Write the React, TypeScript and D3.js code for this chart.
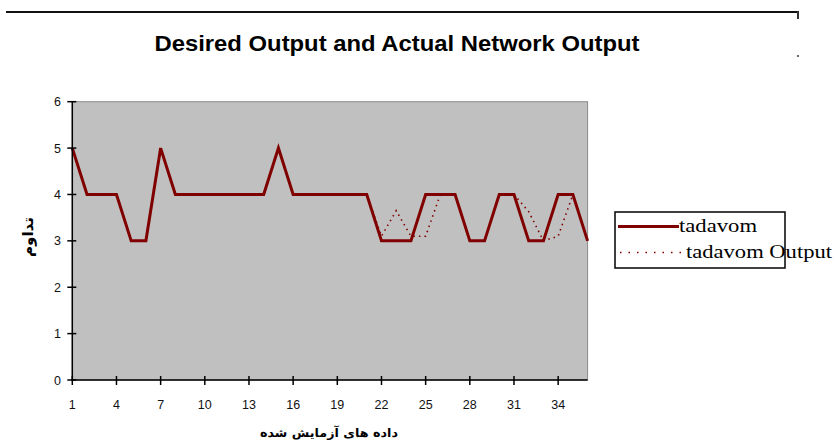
import React from "react";
import * as d3 from "d3";

const categories: number[] = d3.range(1, 37);
const tadavom: number[] = [5, 4, 4, 4, 3, 3, 5, 4, 4, 4, 4, 4, 4, 4, 5, 4, 4, 4, 4, 4, 4, 3, 3, 3, 4, 4, 4, 3, 3, 4, 4, 3, 3, 4, 4, 3];
const tadavomOutput: number[] = [5, 4, 4, 4, 3, 3, 5, 4, 4, 4, 4, 4, 4, 4, 5, 4, 4, 4, 4, 4, 4, 3.1, 3.65, 3.1, 3.1, 4, 4, 3, 3, 4, 4, 3.63, 3.0, 3.1, 4, 3];
const xTickLabels: number[] = [1, 4, 7, 10, 13, 16, 19, 22, 25, 28, 31, 34];
const yTickLabels: number[] = [0, 1, 2, 3, 4, 5, 6];
const seriesNames: string[] = ["tadavom", "tadavom Output"];
const title = "Desired Output and Actual Network Output";
const xTitle = "داده های آزمایش شده";
const yTitle = "تداوم";

export default function App() {
  const W = 837, H = 444;
  const left = 72.3, right = 587.6, top = 101.7, bottom = 380;
  const x = d3.scaleLinear().domain([1, 36]).range([left, right]);
  const y = d3.scaleLinear().domain([0, 6]).range([bottom, top]);
  const line = d3.line<number>().x((_, i) => x(categories[i])).y((d) => y(d));
  const red = "#800000";
  const sans = "'Liberation Sans', Arial, sans-serif";
  const serif = "'Liberation Serif', 'Times New Roman', serif";

  return (
    <div style={{ position: "fixed", left: 0, top: 0, width: W, height: H, background: "#fff" }}>
      <svg width={W} height={H} viewBox={`0 0 ${W} ${H}`}>
        <rect x={0} y={0} width={W} height={H} fill="#fff" />
        {/* chart area border remnants */}
        <line x1={6} x2={798} y1={12} y2={12} stroke="#111" strokeWidth={2} />
        <line x1={798} x2={798} y1={11} y2={19} stroke="#333" strokeWidth={2} />
        <rect x={797} y={55} width={2} height={2} fill="#666" />

        <text x={397} y={51} textAnchor="middle" fontFamily="'Liberation Sans Narrow', 'Arial Narrow', 'Liberation Sans', Arial" fontWeight="bold" fontSize={22} textLength={485} lengthAdjust="spacingAndGlyphs" fill="#000">{title}</text>

        {/* plot area */}
        <rect x={left} y={top} width={right - left} height={bottom - top} fill="#C0C0C0" stroke="#8a8a8a" strokeWidth={1} />

        {/* series */}
        <path d={line(tadavomOutput) || ""} fill="none" stroke={red} strokeWidth={1.6} strokeDasharray="1.5 4" />
        <path d={line(tadavom) || ""} fill="none" stroke={red} strokeWidth={3} strokeLinejoin="miter" />

        {/* axes */}
        <line x1={left} x2={left} y1={top} y2={bottom + 1} stroke="#000" strokeWidth={1.5} />
        <line x1={left - 1} x2={right} y1={bottom} y2={bottom} stroke="#000" strokeWidth={1.5} />
        {yTickLabels.map((v) => (
          <g key={"y" + v}>
            <line x1={left - 5} x2={left + 4} y1={y(v)} y2={y(v)} stroke="#000" strokeWidth={1.5} />
            <text x={61} y={y(v) + 4.5} textAnchor="end" fontFamily={sans} fontSize={12.5} fill="#111">{v}</text>
          </g>
        ))}
        {xTickLabels.map((v) => (
          <g key={"x" + v}>
            <line x1={x(v)} x2={x(v)} y1={bottom - 4} y2={bottom + 5} stroke="#000" strokeWidth={1.5} />
            <text x={x(v)} y={409} textAnchor="middle" fontFamily={sans} fontSize={12.5} fill="#111">{v}</text>
          </g>
        ))}

        <text x={329} y={437} textAnchor="middle" direction="rtl" fontFamily="'DejaVu Sans', 'Noto Sans', sans-serif" fontWeight="bold" fontSize={12} textLength={138} lengthAdjust="spacingAndGlyphs" fill="#000">{xTitle}</text>
        <text transform="translate(33,237) rotate(-90)" textAnchor="middle" direction="rtl" fontFamily="'DejaVu Sans', 'Noto Sans', sans-serif" fontWeight="bold" fontSize={15} textLength={40} lengthAdjust="spacingAndGlyphs" fill="#000">{yTitle}</text>

        {/* legend */}
        <rect x={615} y={212} width={170} height={56} fill="#fff" stroke="#000" strokeWidth={1.5} />
        <line x1={618} x2={679} y1={226.5} y2={226.5} stroke={red} strokeWidth={3} />
        <text x={679} y={232} fontFamily={serif} fontSize={18} textLength={78} lengthAdjust="spacingAndGlyphs" fill="#000">{seriesNames[0]}</text>
        <line x1={620} x2={682} y1={252.5} y2={252.5} stroke={red} strokeWidth={1.6} strokeDasharray="1.5 7" />
        <text x={686} y={258} fontFamily={serif} fontSize={18} textLength={146} lengthAdjust="spacingAndGlyphs" fill="#000">{seriesNames[1]}</text>
      </svg>
    </div>
  );
}
